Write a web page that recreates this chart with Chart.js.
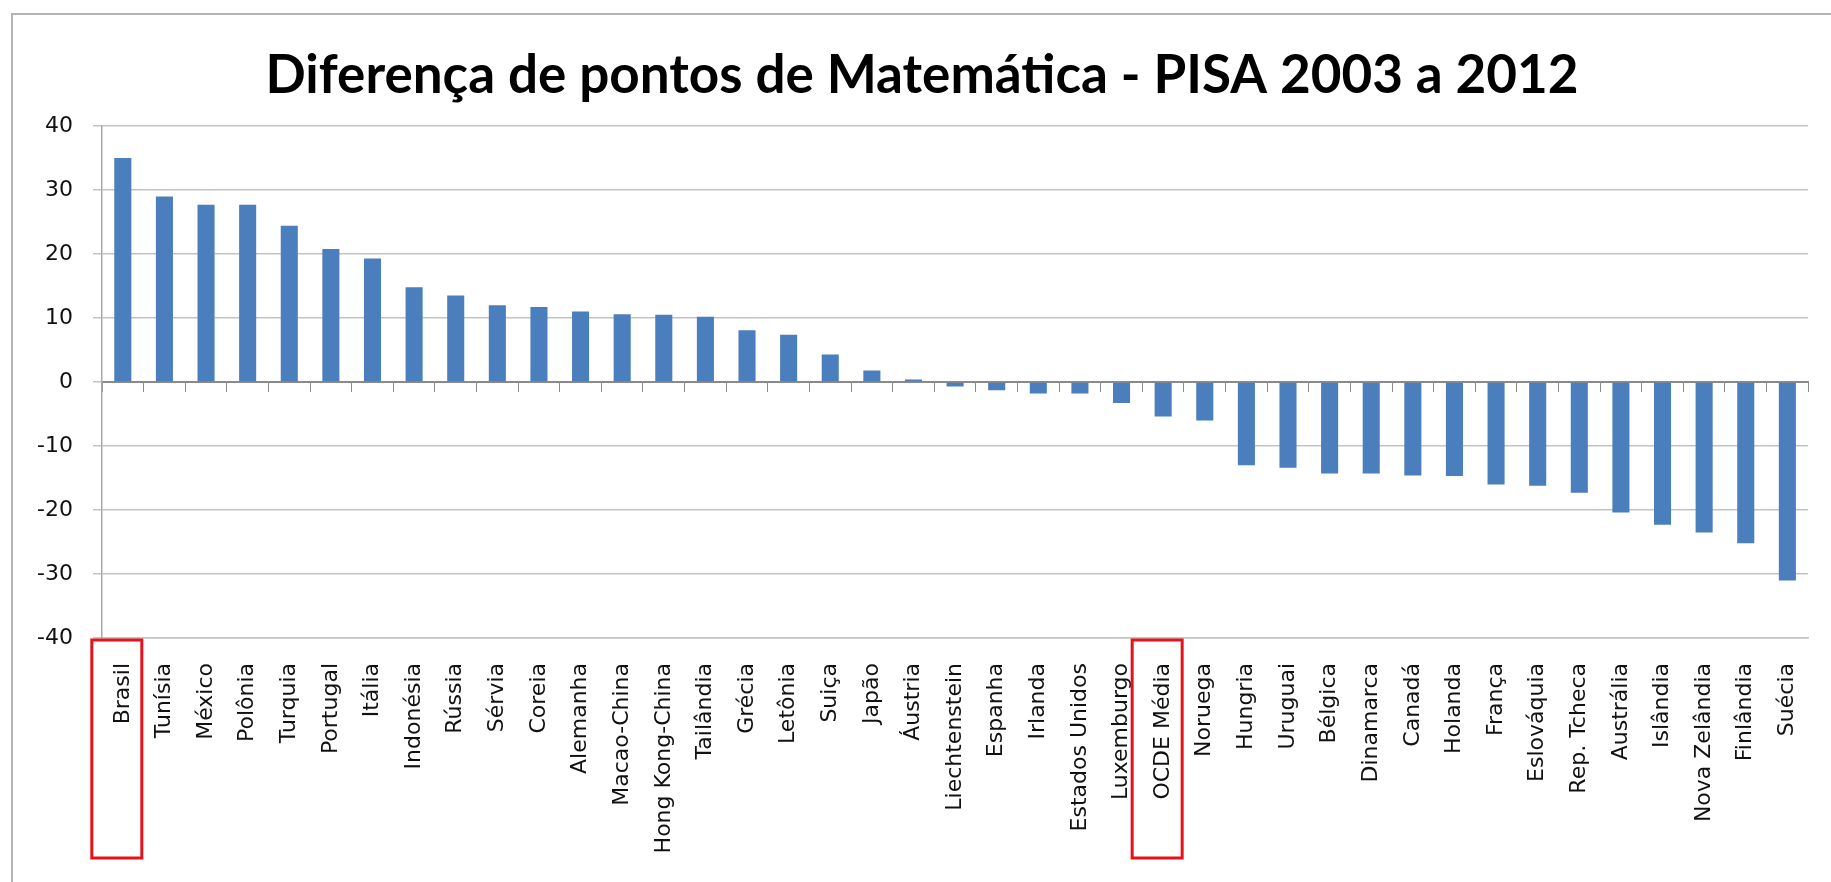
<!DOCTYPE html>
<html lang="pt-BR">
<head>
<meta charset="utf-8">
<title>Diferença de pontos de Matemática - PISA 2003 a 2012</title>
<script src="https://cdn.jsdelivr.net/npm/chart.js@4.4.0/dist/chart.umd.min.js"></script>
<style>
  html, body { margin: 0; padding: 0; background: #fff; overflow: hidden; }
  .frame {
    position: absolute; left: 11px; top: 13px; width: 1900px; height: 1000px;
    border-left: 2px solid #b4b4b4; border-top: 2px solid #b4b4b4;
  }
  #chart { position: absolute; left: 0; top: 0; }
</style>
</head>
<body>
<div class="frame"></div>
<canvas id="chart" width="1831" height="882"></canvas>
<script>
// Dados (diferença de pontos 2003 -> 2012)
const paises = [
  'Brasil', 'Tunísia', 'México', 'Polônia', 'Turquia', 'Portugal', 'Itália',
  'Indonésia', 'Rússia', 'Sérvia', 'Coreia', 'Alemanha', 'Macao-China',
  'Hong Kong-China', 'Tailândia', 'Grécia', 'Letônia', 'Suiça', 'Japão',
  'Áustria', 'Liechtenstein', 'Espanha', 'Irlanda', 'Estados Unidos',
  'Luxemburgo', 'OCDE Média', 'Noruega', 'Hungria', 'Uruguai', 'Bélgica',
  'Dinamarca', 'Canadá', 'Holanda', 'França', 'Eslováquia', 'Rep. Tcheca',
  'Austrália', 'Islândia', 'Nova Zelândia', 'Finlândia', 'Suécia'
];

const diferenca = [
  35, 29, 27.7, 27.7, 24.4, 20.8, 19.3,
  14.8, 13.5, 12, 11.7, 11, 10.6,
  10.5, 10.2, 8.1, 7.4, 4.3, 1.8,
  0.4, -0.7, -1.3, -1.8, -1.8,
  -3.3, -5.4, -6, -13, -13.4, -14.3,
  -14.3, -14.6, -14.7, -16, -16.2, -17.3,
  -20.4, -22.3, -23.5, -25.2, -31
];

const destaques = ['Brasil', 'OCDE Média'];
const yTicks = [-40, -30, -20, -10, 0, 10, 20, 30, 40];

const fonteEixo = { family: "'DejaVu Sans', sans-serif", size: 22 };

// caixas vermelhas em volta dos rótulos destacados
const destaquePlugin = {
  id: 'destaques',
  afterDraw(chart) {
    const { ctx, chartArea } = chart;
    const x = chart.scales.x;
    ctx.save();
    ctx.strokeStyle = '#e3121b';
    ctx.lineWidth = 3;
    destaques.forEach(nome => {
      const cx = x.getPixelForValue(paises.indexOf(nome)) - 6;
      ctx.strokeRect(cx - 25, chartArea.bottom + 2, 50, 218);
    });
    ctx.restore();
  }
};

new Chart(document.getElementById('chart'), {
  type: 'bar',
  data: {
    labels: paises,
    datasets: [{
      data: diferenca,
      backgroundColor: '#4a7ebd',
      barPercentage: 0.41,
      categoryPercentage: 1
    }]
  },
  options: {
    responsive: false,
    animation: false,
    layout: { padding: { left: 32, right: 19, top: 0, bottom: 0 } },
    plugins: {
      legend: { display: false },
      tooltip: { enabled: false },
      title: {
        display: true,
        text: 'Diferença de pontos de Matemática - PISA 2003 a 2012',
        color: '#000',
        font: { family: "Lato, 'Open Sans', sans-serif", size: 53, weight: 'bold', lineHeight: 1.2 },
        padding: { top: 44, bottom: 18.4 }
      }
    },
    scales: {
      x: {
        position: 'bottom',
        grid: { display: false },
        border: { display: true, color: '#c3c3c3', width: 1.5 },
        ticks: {
          autoSkip: false,
          minRotation: 90,
          maxRotation: 90,
          padding: 17,
          color: '#111',
          font: fonteEixo
        },
        afterFit: scale => { scale.height = 244; }
      },
      x0: {
        type: 'category',
        position: { y: 0 },
        grid: {
          offset: true,
          drawOnChartArea: false,
          drawTicks: true,
          tickLength: 9,
          color: '#8a8a8a'
        },
        border: { display: true, color: '#8a8a8a', width: 2 },
        ticks: { display: false }
      },
      y: {
        min: -40,
        max: 40,
        afterBuildTicks: scale => { scale.ticks = yTicks.map(v => ({ value: v })); },
        grid: { color: '#c3c3c3', lineWidth: 1.5, tickLength: 9 },
        border: { display: true, color: '#a8a8a8', width: 1.5 },
        ticks: { padding: 20, color: '#111', font: fonteEixo },
        afterFit: scale => { scale.width = 70; }
      }
    }
  },
  plugins: [destaquePlugin]
});
</script>
</body>
</html>
